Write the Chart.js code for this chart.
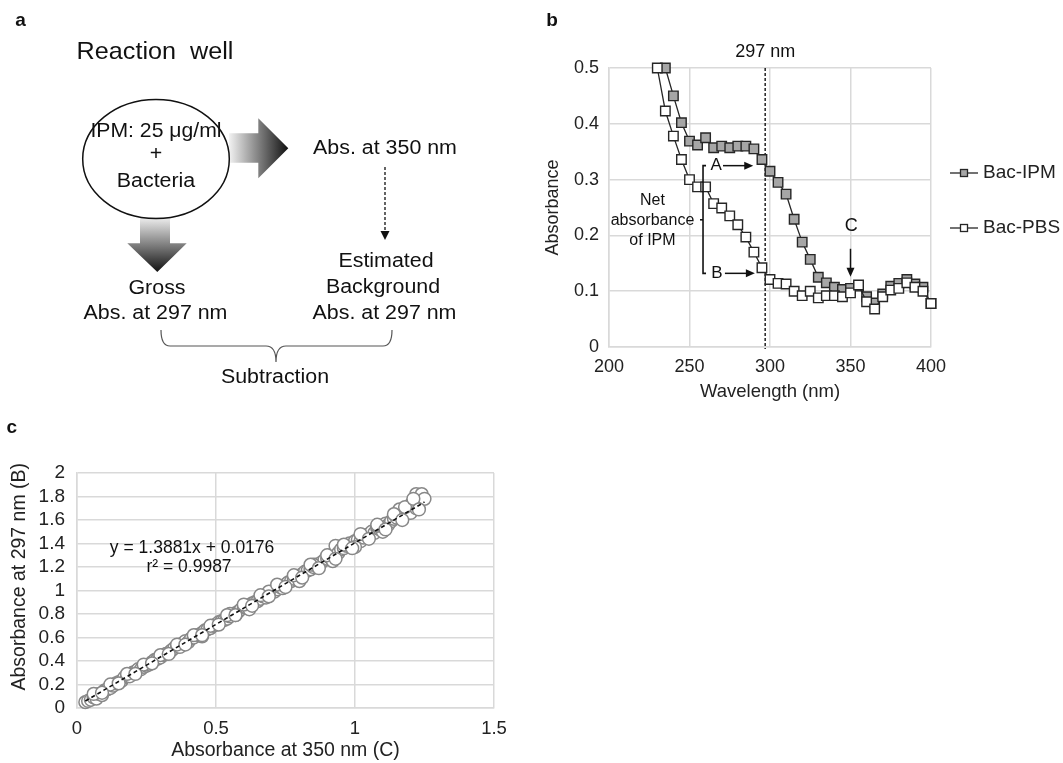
<!DOCTYPE html>
<html><head><meta charset="utf-8">
<script src="https://cdn.jsdelivr.net/npm/chart.js@4.4.1/dist/chart.umd.min.js"></script>
<style>
html,body{margin:0;padding:0;background:#fff;}
body{width:1063px;height:763px;overflow:hidden;position:relative;font-family:"Liberation Sans",Arial,sans-serif;}
#cb{position:absolute;left:520px;top:0;}
#cc{position:absolute;left:0;top:410px;}
#ov{position:absolute;left:0;top:0;pointer-events:none;}
#ov text{white-space:pre;}
</style></head><body>
<canvas id="cb" width="543" height="410"></canvas>
<canvas id="cc" width="520" height="353"></canvas>
<svg id="ov" width="1063" height="763" xmlns="http://www.w3.org/2000/svg" font-family="Liberation Sans, Arial, sans-serif">
  <defs>
    <linearGradient id="gR" x1="229" y1="0" x2="288" y2="0" gradientUnits="userSpaceOnUse">
      <stop offset="0" stop-color="#f2f2f2"/><stop offset="1" stop-color="#111"/>
    </linearGradient>
    <linearGradient id="gD" x1="0" y1="217" x2="0" y2="272" gradientUnits="userSpaceOnUse">
      <stop offset="0" stop-color="#f0f0f0"/><stop offset="1" stop-color="#111"/>
    </linearGradient>
  </defs>
  <text x="20.5" y="26" font-size="19" font-weight="bold" text-anchor="middle" fill="#111">a</text>
  <text x="552" y="26" font-size="19" font-weight="bold" text-anchor="middle" fill="#111">b</text>
  <text x="11.7" y="432.7" font-size="19" font-weight="bold" text-anchor="middle" fill="#111">c</text>

  <text transform="translate(155,59) scale(1.05,1)" font-size="24" text-anchor="middle" fill="#111">Reaction  well</text>
  <polygon points="229,133.3 258.3,133.3 258.3,118.3 288.3,148.3 258.3,178.3 258.3,162.7 229,162.7" fill="url(#gR)"/>
  <polygon points="140,217 170,217 170,243.3 186.7,243.3 157.3,272 127.3,243.3 140,243.3" fill="url(#gD)"/>
  <ellipse cx="156" cy="159" rx="73.3" ry="59.5" fill="none" stroke="#111" stroke-width="1.5"/>
  <text transform="translate(156,137) scale(1.06,1)" font-size="20" text-anchor="middle" fill="#111">IPM: 25 μg/ml</text>
  <text transform="translate(156,160) scale(1.07,1)" font-size="20" text-anchor="middle" fill="#111">+</text>
  <text transform="translate(156,187) scale(1.07,1)" font-size="20" text-anchor="middle" fill="#111">Bacteria</text>

  <text transform="translate(385,154) scale(1.07,1)" font-size="20" text-anchor="middle" fill="#111">Abs. at 350 nm</text>
  <line x1="385" y1="167" x2="385" y2="233" stroke="#111" stroke-width="1.3" stroke-dasharray="3,2"/>
  <polygon points="380.5,231 389.5,231 385,240" fill="#111"/>
  <text transform="translate(386,267) scale(1.07,1)" font-size="20" text-anchor="middle" fill="#111">Estimated</text>
  <text transform="translate(383,293) scale(1.07,1)" font-size="20" text-anchor="middle" fill="#111">Background</text>
  <text transform="translate(384.5,318.5) scale(1.07,1)" font-size="20" text-anchor="middle" fill="#111">Abs. at 297 nm</text>

  <text transform="translate(157,293.5) scale(1.07,1)" font-size="20" text-anchor="middle" fill="#111">Gross</text>
  <text transform="translate(155.5,318.5) scale(1.07,1)" font-size="20" text-anchor="middle" fill="#111">Abs. at 297 nm</text>

  <path d="M161,330 Q161,346 170,346 L266,346 Q276,346 276,362 Q276,346 286,346 L383,346 Q392,346 392,330" fill="none" stroke="#555" stroke-width="1.2"/>
  <text transform="translate(275,383) scale(1.07,1)" font-size="20" text-anchor="middle" fill="#111">Subtraction</text>
</svg>
<script>
// ---------- Panel b data ----------
const wlIPM = [235,240,245,250,255,260,265,270,275,280,285,290,295,300,305,310,315,320,325,330,335,340,345,350,355,360,365,370,375,380,385,390,395,400];
const absIPM = [0.500,0.450,0.402,0.369,0.362,0.375,0.357,0.360,0.357,0.360,0.360,0.355,0.336,0.315,0.295,0.274,0.229,0.188,0.157,0.125,0.115,0.107,0.103,0.105,0.109,0.090,0.079,0.095,0.109,0.114,0.121,0.113,0.107,0.078];
const wlPBS = [230,235,240,245,250,255,260,265,270,275,280,285,290,295,300,305,310,315,320,325,330,335,340,345,350,355,360,365,370,375,380,385,390,395,400];
const absPBS = [0.500,0.423,0.378,0.336,0.300,0.287,0.287,0.257,0.249,0.235,0.219,0.197,0.170,0.142,0.121,0.114,0.113,0.100,0.092,0.100,0.088,0.092,0.092,0.090,0.097,0.111,0.081,0.068,0.090,0.102,0.105,0.115,0.107,0.100,0.078];
const seriesNamesB = ['Bac-IPM','Bac-PBS'];
const xTicksB = [200,250,300,350,400];
const yTicksB = [0,0.1,0.2,0.3,0.4,0.5];

// ---------- Panel c data ----------
const absC350 = [0.03,0.04,0.05,0.06,0.07,0.08,0.09,0.10,0.11,0.12,0.13,0.14,0.15,0.16,0.17,0.18,0.19,0.20,0.21,0.22,0.23,0.24,0.25,0.26,0.27,0.28,0.29,0.30,0.31,0.32,0.33,0.34,0.35,0.36,0.37,0.38,0.39,0.40,0.41,0.42,0.43,0.44,0.45,0.46,0.47,0.48,0.49,0.50,0.51,0.52,0.53,0.54,0.55,0.56,0.57,0.58,0.59,0.60,0.61,0.62,0.63,0.64,0.65,0.66,0.67,0.68,0.69,0.70,0.71,0.72,0.73,0.74,0.75,0.76,0.77,0.78,0.79,0.80,0.81,0.82,0.83,0.84,0.85,0.86,0.87,0.88,0.89,0.90,0.91,0.92,0.93,0.94,0.95,0.96,0.97,0.98,0.99,1.00,1.01,1.02,1.03,1.04,1.05,1.06,1.07,1.08,1.09,1.10,1.11,1.12,1.13,1.14,1.15,1.16,1.17,1.18,1.19,1.20,1.21,1.22,1.23,1.24,1.25,
  0.45,0.62,0.80,0.92,1.00,1.10,1.20,1.22,0.55,0.69,0.85,1.08,1.16,
  0.06,0.12,0.18,0.24,0.30,0.36,0.42,0.48,0.54,0.60,0.66,0.72,0.78,0.84,0.90,0.96,1.02,1.08,1.14,1.18,1.21,
  0.09,0.15,0.21,0.27,0.33,0.39,0.45,0.51,0.57,0.63,0.69,0.75,0.81,0.87,0.93,0.99,1.05,1.11,1.17,1.23];
const absB297 = [0.05,0.06,0.07,0.09,0.08,0.12,0.11,0.15,0.16,0.17,0.19,0.21,0.22,0.23,0.26,0.27,0.27,0.30,0.31,0.33,0.33,0.35,0.36,0.37,0.39,0.41,0.42,0.43,0.45,0.46,0.47,0.49,0.51,0.53,0.52,0.55,0.57,0.56,0.59,0.60,0.62,0.62,0.64,0.66,0.67,0.68,0.70,0.71,0.73,0.74,0.75,0.76,0.78,0.80,0.79,0.82,0.84,0.86,0.85,0.87,0.89,0.90,0.91,0.93,0.95,0.94,0.97,0.99,0.99,1.01,1.03,1.02,1.05,1.07,1.08,1.10,1.12,1.11,1.14,1.16,1.17,1.18,1.20,1.22,1.21,1.24,1.26,1.27,1.28,1.31,1.38,1.32,1.35,1.36,1.38,1.40,1.39,1.42,1.43,1.42,1.45,1.47,1.48,1.50,1.49,1.53,1.52,1.55,1.57,1.56,1.59,1.61,1.62,1.65,1.64,1.68,1.70,1.73,1.76,1.82,1.75,1.82,1.78,
  0.61,0.84,1.08,1.25,1.37,1.50,1.66,1.70,0.80,0.99,1.22,1.55,1.69,
  0.12,0.20,0.29,0.37,0.45,0.54,0.62,0.70,0.79,0.88,0.96,1.05,1.13,1.22,1.30,1.39,1.48,1.56,1.65,1.71,1.78,
  0.13,0.21,0.29,0.38,0.46,0.54,0.62,0.71,0.79,0.87,0.95,1.03,1.11,1.19,1.27,1.36,1.44,1.52,1.60,1.69];
const trendX = [0.03,1.25];
const trendY = [0.0592,1.7527];
const eqText = ['y = 1.3881x + 0.0176','r² = 0.9987'];
const xTicksC = [0,0.5,1,1.5];
const yTicksC = [0,0.2,0.4,0.6,0.8,1,1.2,1.4,1.6,1.8,2];

const FONT = '"Liberation Sans", Arial, sans-serif';
const TXT = '#222';
const GRID = '#d9d9d9';
const fmt = v => String(Math.round(v*100)/100);

function arrow(ctx,x1,y1,x2,y2,head,hw){
  const a=Math.atan2(y2-y1,x2-x1), c=Math.cos(a), s=Math.sin(a);
  ctx.beginPath(); ctx.moveTo(x1,y1); ctx.lineTo(x2-c*head*0.8,y2-s*head*0.8); ctx.stroke();
  ctx.beginPath(); ctx.moveTo(x2,y2);
  ctx.lineTo(x2-c*head+s*hw,y2-s*head-c*hw);
  ctx.lineTo(x2-c*head-s*hw,y2-s*head+c*hw);
  ctx.closePath(); ctx.fill();
}

// ---------- Panel b ----------
const annotB = {
  id:'annotB',
  beforeDatasetsDraw(chart){
    const {ctx, scales:{x,y}, chartArea} = chart;
    ctx.save();
    ctx.strokeStyle='#111'; ctx.lineWidth=1.4; ctx.setLineDash([3,2]);
    const px=x.getPixelForValue(297);
    ctx.beginPath(); ctx.moveTo(px,chartArea.top); ctx.lineTo(px,chartArea.bottom+2); ctx.stroke();
    ctx.restore();
  },
  afterDatasetsDraw(chart){
    const {ctx, scales:{x,y}} = chart;
    ctx.save();
    ctx.fillStyle='#111'; ctx.strokeStyle='#111'; ctx.lineWidth=1.5;
    ctx.textAlign='center'; ctx.textBaseline='middle';
    ctx.font='18px '+FONT;
    ctx.fillText('297 nm', x.getPixelForValue(297), 52);
    ctx.font='17px '+FONT;
    const yA=y.getPixelForValue(0.325), yB=y.getPixelForValue(0.132);
    ctx.fillText('A', x.getPixelForValue(266.5), yA);
    ctx.fillText('B', x.getPixelForValue(267), yB);
    arrow(ctx, x.getPixelForValue(270.8), yA, x.getPixelForValue(289.6), yA, 9, 4);
    arrow(ctx, x.getPixelForValue(272), yB, x.getPixelForValue(290.6), yB, 9, 4);
    const bx=x.getPixelForValue(258.4);
    ctx.lineWidth=1.6;
    ctx.beginPath();
    ctx.moveTo(bx+3,yA); ctx.lineTo(bx,yA); ctx.lineTo(bx,yB); ctx.lineTo(bx+3,yB);
    ctx.stroke();
    const ym=y.getPixelForValue(0.228);
    ctx.beginPath(); ctx.moveTo(bx,ym); ctx.lineTo(bx-3,ym); ctx.stroke();
    ctx.font='16px '+FONT;
    const nx=x.getPixelForValue(227);
    ctx.fillText('Net', nx, y.getPixelForValue(0.263));
    ctx.fillText('absorbance', nx, y.getPixelForValue(0.226));
    ctx.fillText('of IPM', nx, y.getPixelForValue(0.19));
    ctx.font='18px '+FONT;
    ctx.fillText('C', x.getPixelForValue(350.4), y.getPixelForValue(0.216));
    ctx.lineWidth=1.5;
    arrow(ctx, x.getPixelForValue(350), y.getPixelForValue(0.176), x.getPixelForValue(350), y.getPixelForValue(0.126), 9, 4);
    ctx.restore();
  },
  afterDraw(chart){
    const ctx=chart.ctx;
    const ds=chart.data.datasets;
    const rows=[173,228];
    ctx.save();
    ds.forEach((d,i)=>{
      const yy=rows[i];
      ctx.strokeStyle=d.borderColor; ctx.lineWidth=1.3;
      ctx.beginPath(); ctx.moveTo(430,yy); ctx.lineTo(458,yy); ctx.stroke();
      ctx.fillStyle=d.pointBackgroundColor; ctx.fillRect(440.5,yy-3.5,7,7);
      ctx.strokeRect(440.5,yy-3.5,7,7);
      ctx.fillStyle=TXT; ctx.font='19px '+FONT; ctx.textAlign='left'; ctx.textBaseline='middle';
      ctx.fillText(d.label, 463, yy);
    });
    ctx.restore();
  }
};

new Chart(document.getElementById('cb'), {
  type:'line',
  data:{datasets:[
    {label:seriesNamesB[0], data:wlIPM.map((w,i)=>({x:w,y:absIPM[i]})), borderColor:'#262626', borderWidth:1.3, clip:false,
     pointStyle:'rect', pointRadius:6.7, pointBackgroundColor:'#a6a6a6', pointBorderColor:'#262626', pointBorderWidth:1.4, order:2, tension:0},
    {label:seriesNamesB[1], data:wlPBS.map((w,i)=>({x:w,y:absPBS[i]})), borderColor:'#262626', borderWidth:1.3, clip:false,
     pointStyle:'rect', pointRadius:6.7, pointBackgroundColor:'#ffffff', pointBorderColor:'#262626', pointBorderWidth:1.4, order:1, tension:0}
  ]},
  options:{
    responsive:false, animation:false, devicePixelRatio:1,
    layout:{padding:{left:0,top:68,right:132,bottom:0}},
    plugins:{legend:{display:false}, tooltip:{enabled:false}},
    scales:{
      x:{type:'linear', min:200, max:400,
         afterBuildTicks(s){ s.ticks = xTicksB.map(v=>({value:v})); },
         ticks:{font:{size:18,family:FONT}, color:TXT, padding:9, maxRotation:0, autoSkip:false},
         grid:{color:GRID, lineWidth:1.5, drawTicks:false}, border:{color:GRID, width:1.5},
         title:{display:true, text:'Wavelength (nm)', font:{size:18.5,family:FONT}, color:TXT, padding:{top:0,bottom:7}},
         afterFit(s){ s.height=63; }},
      y:{type:'linear', min:0, max:0.5,
         afterBuildTicks(s){ s.ticks = yTicksB.map(v=>({value:v})); },
         ticks:{font:{size:18,family:FONT}, color:TXT, padding:10, autoSkip:false, callback:fmt},
         grid:{color:GRID, lineWidth:1.5, drawTicks:false}, border:{color:GRID, width:1.5},
         title:{display:true, text:'Absorbance', font:{size:18,family:FONT}, color:TXT, padding:{top:22,bottom:0}},
         afterFit(s){ s.width=89; }}
    }
  },
  plugins:[annotB]
});

// ---------- Panel c ----------
const annotC = {
  id:'annotC',
  afterDatasetsDraw(chart){
    const {ctx, scales:{x,y}} = chart;
    ctx.save();
    ctx.fillStyle='#111'; ctx.font='17.5px '+FONT; ctx.textAlign='center'; ctx.textBaseline='middle';
    ctx.fillText(eqText[0], x.getPixelForValue(0.414), y.getPixelForValue(1.362));
    ctx.fillText(eqText[1], x.getPixelForValue(0.403), y.getPixelForValue(1.2));
    ctx.restore();
  },
  afterDraw(chart){
    const ctx=chart.ctx;
    ctx.save();
    ctx.translate(20,166.7); ctx.rotate(-Math.PI/2);
    ctx.fillStyle=TXT; ctx.font='19.5px '+FONT; ctx.textAlign='center'; ctx.textBaseline='middle';
    ctx.fillText('Absorbance at 297 nm (B)',0,0);
    ctx.restore();
  }
};

new Chart(document.getElementById('cc'), {
  type:'scatter',
  data:{datasets:[
    {type:'line', label:'trend', data:trendX.map((v,i)=>({x:v,y:trendY[i]})), borderColor:'#111', borderWidth:1.6,
     borderDash:[4,3], pointRadius:0, order:0, clip:false},
    {label:'data', data:absC350.map((v,i)=>({x:v,y:absB297[i]})), pointStyle:'circle', pointRadius:6.4,
     pointBackgroundColor:'#ffffff', pointBorderColor:'#888888', pointBorderWidth:1.5, showLine:false, order:1, clip:false}
  ]},
  options:{
    responsive:false, animation:false, devicePixelRatio:1,
    layout:{padding:{left:0,top:63,right:26,bottom:0}},
    plugins:{legend:{display:false}, tooltip:{enabled:false}},
    scales:{
      x:{type:'linear', min:0, max:1.5,
         afterBuildTicks(s){ s.ticks = xTicksC.map(v=>({value:v})); },
         ticks:{font:{size:18.5,family:FONT}, color:TXT, padding:9.5, maxRotation:0, autoSkip:false, callback:fmt},
         grid:{color:GRID, lineWidth:1.5, drawTicks:false}, border:{color:GRID, width:1.5},
         title:{display:true, text:'Absorbance at 350 nm (C)', font:{size:19.5,family:FONT}, color:TXT, padding:{top:0,bottom:0.5}},
         afterFit(s){ s.height=55; }},
      y:{type:'linear', min:0, max:2,
         afterBuildTicks(s){ s.ticks = yTicksC.map(v=>({value:v})); },
         ticks:{font:{size:19,family:FONT}, color:TXT, padding:12, autoSkip:false, callback:fmt},
         grid:{color:GRID, lineWidth:1.5, drawTicks:false}, border:{color:GRID, width:1.5},
         title:{display:false},
         afterFit(s){ s.width=77; }}
    }
  },
  plugins:[annotC]
});
</script>
</body></html>
